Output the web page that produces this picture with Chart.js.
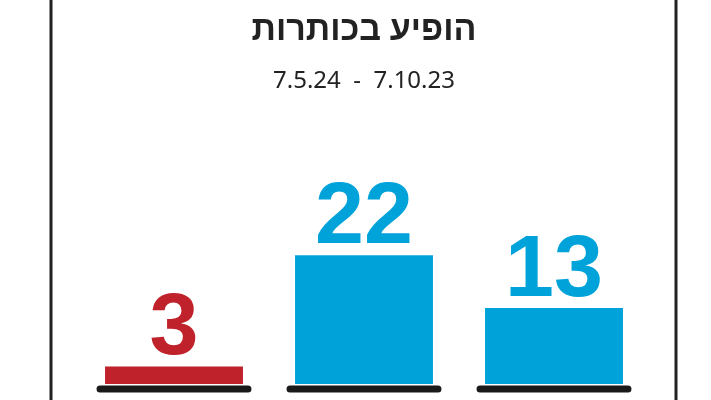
<!DOCTYPE html>
<html><head><meta charset="utf-8">
<script src="https://cdn.jsdelivr.net/npm/chart.js@4"></script>
<style>html,body{margin:0;padding:0;background:#fff}#c{display:block}</style>
</head><body>
<div style="width:711px;height:400px"><canvas id="c"></canvas></div>
<script>
const categories = ["a", "b", "c"];
const values = [3, 22, 13];
const barColors = ["#c0222b", "#00a3d9", "#00a3d9"];
const titleText = "הופיע בכותרות";
const subtitleText = "7.5.24  -  7.10.23";

const deco = {
  id: 'deco',
  afterDatasetsDraw(chart) {
    const ctx = chart.ctx;
    ctx.save();
    ctx.strokeStyle = '#222';
    ctx.lineWidth = 3;
    [51, 676].forEach(x => { ctx.beginPath(); ctx.moveTo(x, 0); ctx.lineTo(x, 400); ctx.stroke(); });
    const meta = chart.getDatasetMeta(0);
    ctx.lineCap = 'round';
    ctx.lineWidth = 7;
    ctx.strokeStyle = '#1a1a1a';
    meta.data.forEach((b, i) => {
      ctx.beginPath();
      ctx.moveTo(b.x - b.width / 2 - 5, 389);
      ctx.lineTo(b.x + b.width / 2 + 5, 389);
      ctx.stroke();
      ctx.fillStyle = barColors[i];
      ctx.font = 'bold 88px "Liberation Sans", Arial, sans-serif';
      ctx.textAlign = 'center';
      ctx.textBaseline = 'alphabetic';
      ctx.fillText(String(values[i]), b.x, b.y - 12);
    });
    ctx.fillStyle = '#222';
    ctx.textAlign = 'center';
    ctx.font = 'bold 34px "Noto Sans", sans-serif';
    ctx.direction = 'rtl';
    ctx.fillText(titleText, 364, 40);
    ctx.direction = 'ltr';
    ctx.font = '24px "Noto Sans", sans-serif';
    ctx.fillText(subtitleText, 364, 88);
    ctx.restore();
  }
};

new Chart(document.getElementById('c'), {
  type: 'bar',
  data: { labels: categories, datasets: [{ data: values, backgroundColor: barColors, barPercentage: 0.726, categoryPercentage: 1 }] },
  options: {
    responsive: true, maintainAspectRatio: false, animation: false,
    layout: { padding: { top: 150, bottom: 16, left: 79, right: 62 } },
    plugins: { legend: { display: false }, tooltip: { enabled: false } },
    scales: {
      x: { display: false },
      y: { display: false, min: 0, max: 40 }
    }
  },
  plugins: [deco]
});
</script>
</body></html>
